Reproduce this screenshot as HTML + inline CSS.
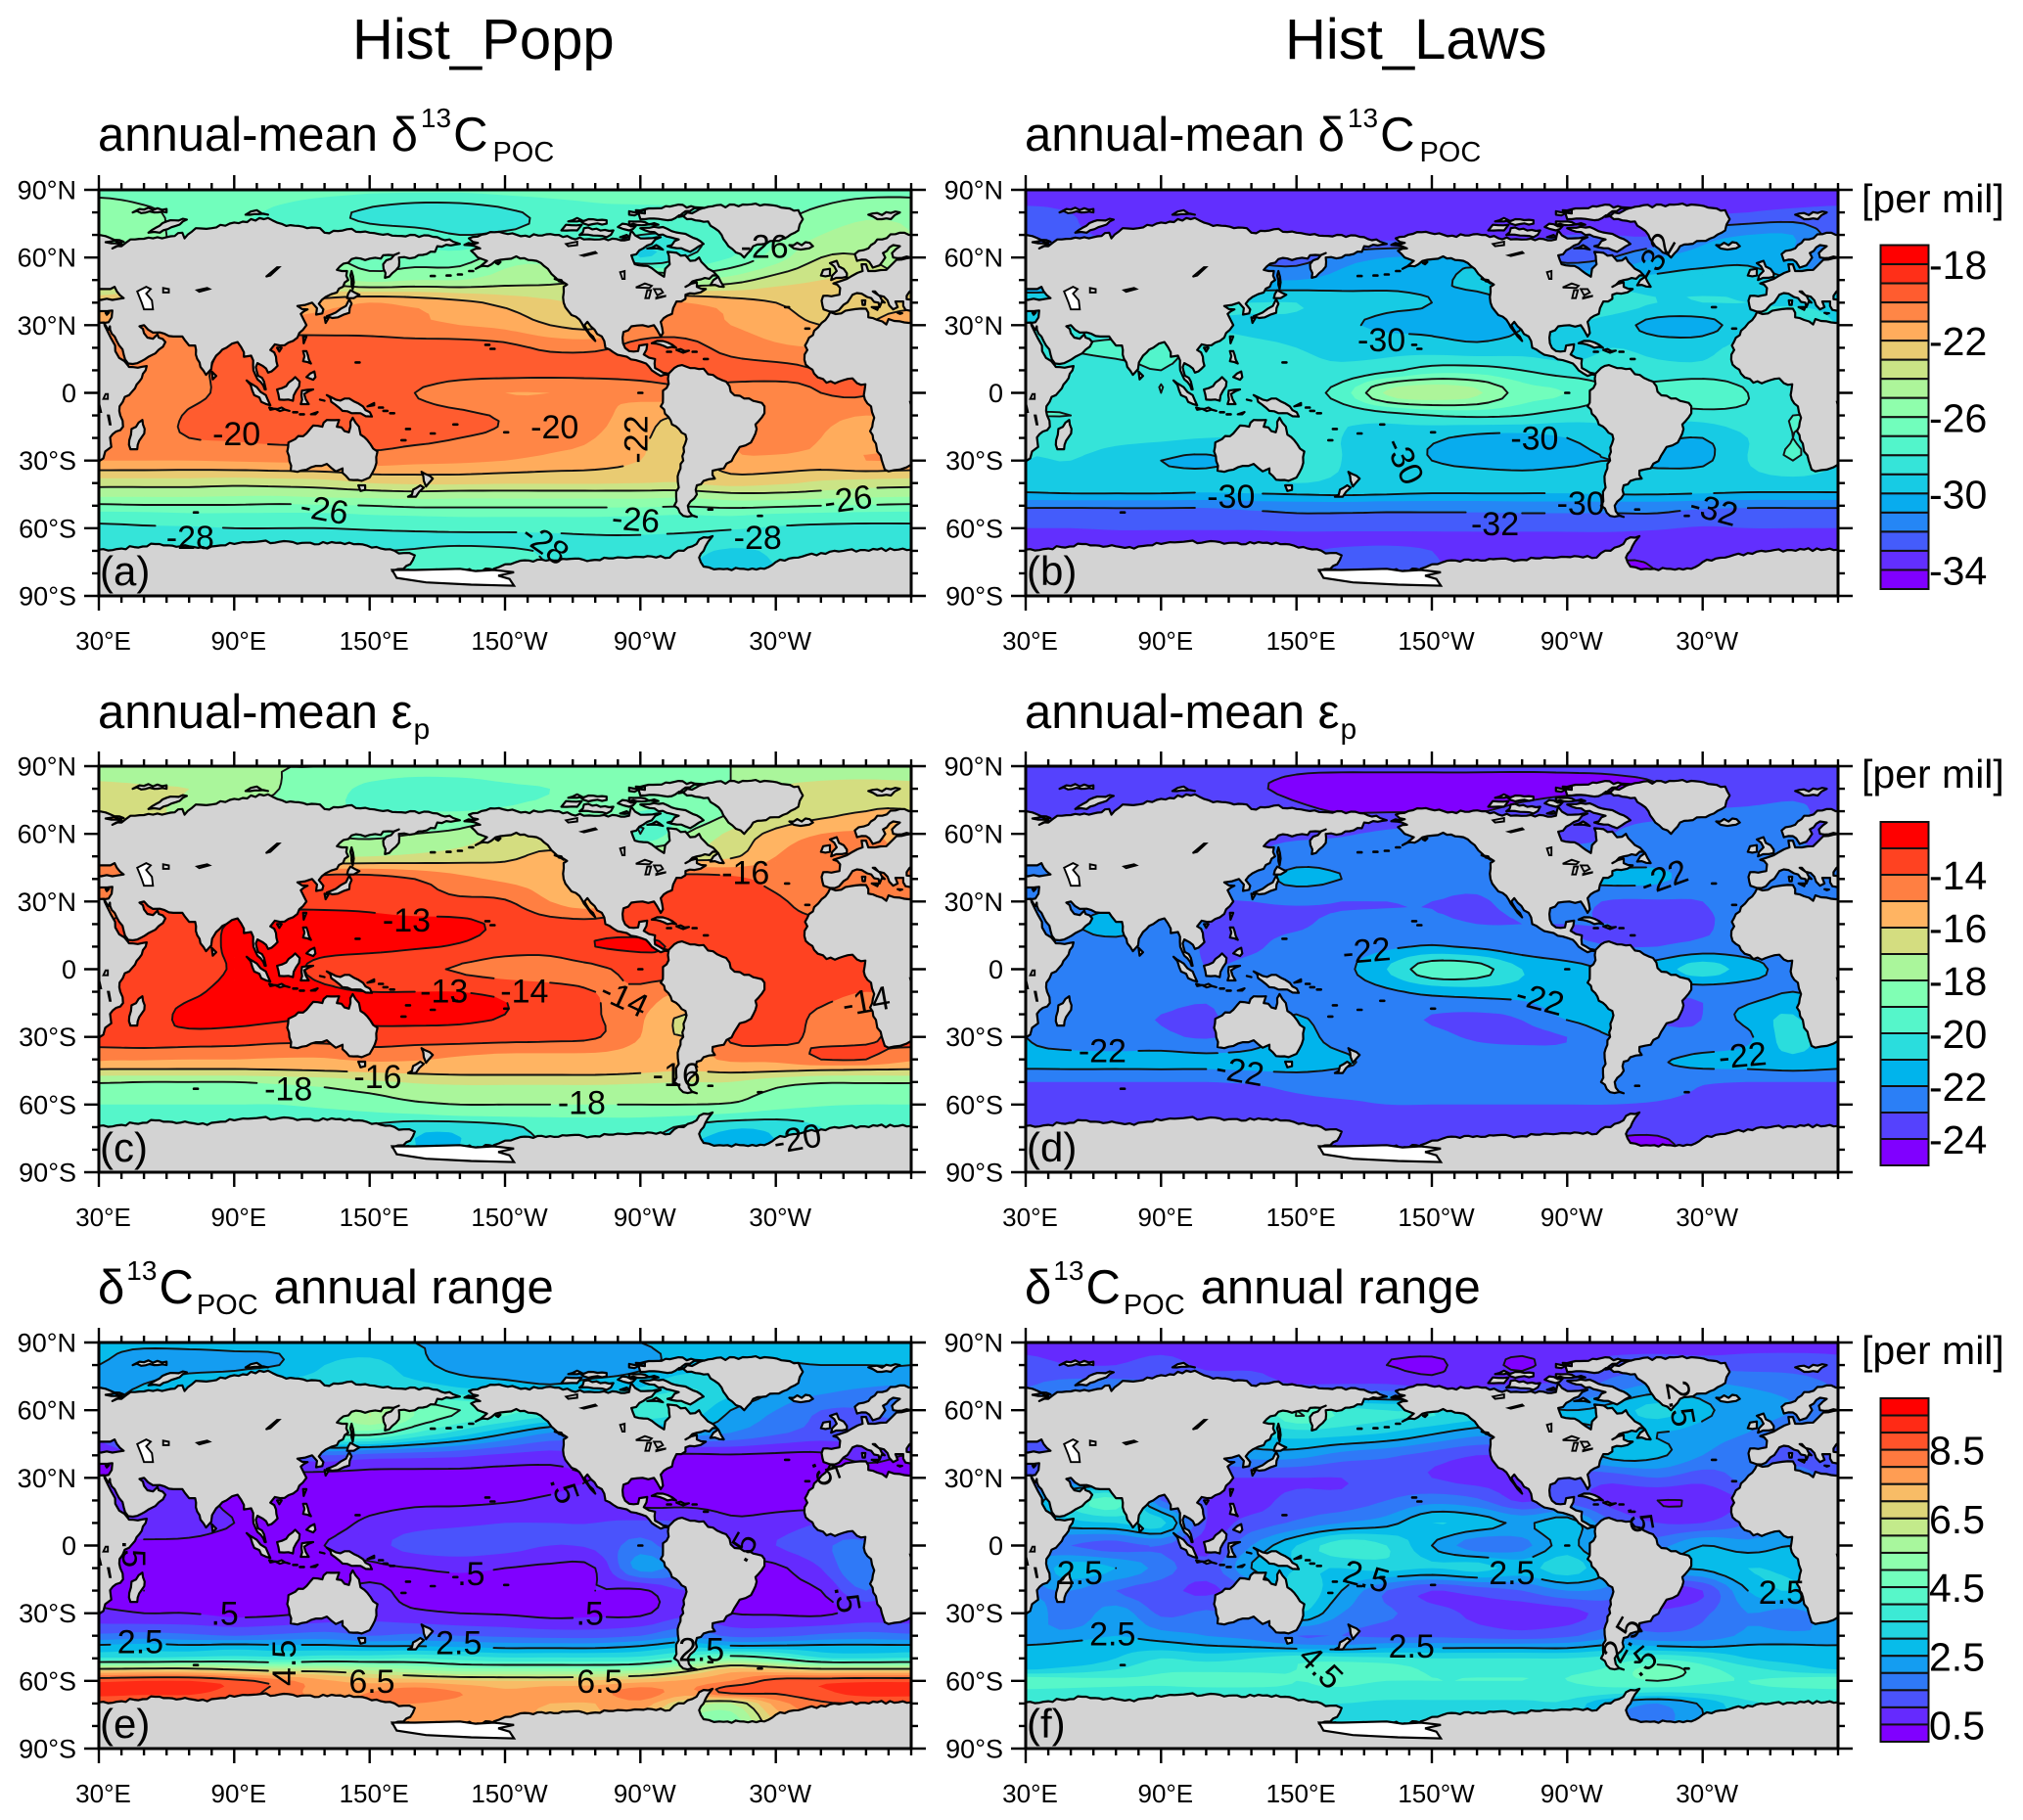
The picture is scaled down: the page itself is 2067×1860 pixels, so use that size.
<!DOCTYPE html>
<html lang="en">
<head>
<meta charset="utf-8">
<title>Hist_Popp vs Hist_Laws carbon isotope maps</title>
<style>
html,body{margin:0;padding:0;background:#fff}
svg{display:block}
text{font-family:"Liberation Sans",sans-serif;fill:#000}
</style>
</head>
<body>
<svg id="figure" xmlns="http://www.w3.org/2000/svg" width="2067" height="1860" viewBox="0 0 2067 1860">
<rect x="0" y="0" width="2067" height="1860" fill="#fff"/>
<text x="360" y="60" font-size="58">Hist_Popp</text>
<text x="1313" y="60" font-size="58">Hist_Laws</text>
<text x="100" y="154" font-size="49">annual-mean δ<tspan font-size="28" dy="-24" dx="3">13</tspan><tspan dy="24" dx="2">C</tspan><tspan font-size="29" dy="11" dx="5">POC</tspan></text>
<text x="1047" y="154" font-size="49">annual-mean δ<tspan font-size="28" dy="-24" dx="3">13</tspan><tspan dy="24" dx="2">C</tspan><tspan font-size="29" dy="11" dx="5">POC</tspan></text>
<text x="100" y="744" font-size="49">annual-mean ε<tspan font-size="30" dy="11" dx="1">p</tspan></text>
<text x="1047" y="744" font-size="49">annual-mean ε<tspan font-size="30" dy="11" dx="1">p</tspan></text>
<text x="100" y="1332" font-size="49">δ<tspan font-size="28" dy="-24" dx="2">13</tspan><tspan dy="24" dx="2">C</tspan><tspan font-size="29" dy="11" dx="3">POC</tspan><tspan dy="-11" dx="16">annual range</tspan></text>
<text x="1047" y="1332" font-size="49">δ<tspan font-size="28" dy="-24" dx="2">13</tspan><tspan dy="24" dx="2">C</tspan><tspan font-size="29" dy="11" dx="3">POC</tspan><tspan dy="-11" dx="16">annual range</tspan></text>
<text x="1902" y="217" font-size="41">[per mil]</text>
<text x="1902" y="805" font-size="41">[per mil]</text>
<text x="1902" y="1394" font-size="41">[per mil]</text>
</svg>
<script>
// ---------- grid axes ----------
const gridLons = [30,50,70,90,110,130,150,170,190,210,230,250,270,290,310,330,350,370];
const gridLats = [90,80,70,60,50,40,30,20,10,0,-10,-20,-30,-40,-45,-50,-55,-60,-65,-70,-80];

// ---------- tick labels ----------
const lonTickValues = [30,90,150,210,270,330];
const lonTickLabels = ["30°E","90°E","150°E","150°W","90°W","30°W"];
const latTickValues = [90,60,30,0,-30,-60,-90];
const latTickLabels = ["90°N","60°N","30°N","0","30°S","60°S","90°S"];

// ---------- contour and colour levels ----------
const isoLevels = [-34,-33,-32,-31,-30,-29,-28,-27,-26,-25,-24,-23,-22,-21,-20,-19,-18];
const isoLines = [-34,-32,-30,-28,-26,-24,-22,-20,-18];
const isoBarLabels = [-18,-22,-26,-30,-34];
const epsLevels = [-24,-23,-22,-21,-20,-19,-18,-17,-16,-15,-14,-13];
const epsLinesPopp = [-20,-18,-16,-14,-13];
const epsLinesLaws = [-24,-22,-20];
const epsBarLabels = [-14,-16,-18,-20,-22,-24];
const rangeLevels = [0.5,1,1.5,2,2.5,3,3.5,4,4.5,5,5.5,6,6.5,7,7.5,8,8.5,9,9.5];
const rangeLines = [0.5,2.5,4.5,6.5,8.5];
const rangeBarLabels = [8.5,6.5,4.5,2.5,0.5];

// ---------- field values, one row per gridLats entry, one column per gridLons entry ----------
const panelAValues = [
[-26.3,-26.4,-26.5,-26.5,-26.6,-26.7,-26.8,-26.8,-26.8,-26.7,-26.6,-26.6,-26.5,-26.5,-26.5,-26.5,-26.4,-26.3],
[-25.3,-25.8,-26.3,-26.7,-27.2,-27.7,-28.2,-28.7,-28.7,-28.2,-27.7,-27.3,-27.3,-27.2,-26.8,-26.3,-25.8,-25.3],
[-25,-25.5,-26.5,-27,-27.5,-27.5,-27.5,-27.5,-28,-27.8,-27.5,-27.5,-28,-28,-27.5,-26,-25,-24.5],
[-25,-25.5,-26,-26,-26,-26,-26.5,-26.5,-26.5,-25.5,-25.5,-27,-29,-28,-27,-25.5,-24,-24],
[-24,-24,-24,-24,-24,-24.5,-25.3,-25,-25,-24.5,-24.3,-24,-24,-25,-24.5,-23.5,-23,-23],
[-22.5,-22,-22,-22,-22,-21.5,-21,-21.3,-21.7,-22.3,-22.8,-23,-21,-21,-21.5,-22,-22.5,-22.5],
[-21,-21,-21,-20.7,-20.5,-20.5,-20.5,-20.8,-21,-21.3,-22,-22.3,-20.8,-20.5,-21,-21.5,-22,-22],
[-20.8,-20.8,-20.6,-19.8,-19.6,-19.5,-19.5,-19.5,-19.5,-19.7,-20.2,-20.2,-19.6,-19.7,-20.3,-20.8,-21,-21],
[-21,-20.8,-20.3,-19.7,-19.6,-19.4,-19.4,-19.4,-19.5,-19.5,-19.6,-19.6,-19.6,-19.6,-19.7,-19.7,-20,-20.2],
[-20.8,-20.8,-20.3,-19.7,-19.5,-19.5,-19.5,-20,-20.6,-21,-21,-20.9,-20.6,-20.3,-20.4,-20.5,-20,-19.9],
[-20.8,-20.6,-19.9,-19.6,-19.5,-19.5,-19.6,-19.6,-19.8,-20.1,-20.3,-20.7,-21.5,-22,-21,-20.8,-20.7,-21],
[-20.8,-20.5,-20,-19.9,-19.8,-19.8,-19.7,-19.8,-20,-20.2,-20.6,-21,-21.8,-22.5,-21,-20.8,-21,-21.7],
[-21,-21,-21,-20.9,-20.8,-20.7,-20.5,-20.7,-20.8,-21,-21.3,-21.5,-22,-22.8,-21.3,-21.2,-21.3,-21],
[-23.5,-23.5,-23.5,-23.6,-23.5,-23.4,-23,-22.8,-22.8,-22.9,-22.9,-22.9,-23,-23,-22.6,-22.8,-23.2,-23.4],
[-24.7,-24.7,-24.7,-24.8,-24.8,-24.6,-24.5,-24.4,-24.5,-24.5,-24.5,-24.5,-24.5,-24.6,-24.2,-24.2,-24.4,-24.6],
[-26.2,-26.1,-26.1,-26.1,-26.2,-26.1,-26,-25.8,-25.8,-25.8,-25.8,-25.8,-25.8,-25.9,-25.7,-25.8,-26,-26.1],
[-27.6,-27.6,-27.4,-27.4,-27.4,-27.4,-27.2,-27.1,-27,-27,-27,-27,-27.1,-27.2,-27.1,-27.4,-27.5,-27.6],
[-28.2,-28.1,-28.1,-28,-28,-28,-27.9,-27.8,-27.7,-27.7,-27.7,-27.6,-27.6,-27.7,-27.9,-28.1,-28.2,-28.2],
[-28.7,-28.6,-28.5,-28.5,-28.5,-28.5,-28.4,-28.4,-28.4,-28.4,-28.3,-28.2,-28.2,-28.4,-28.6,-28.7,-28.7,-28.7],
[-28.6,-28.6,-28.5,-28.5,-28.5,-28.5,-28.1,-27.9,-27.6,-27.8,-28.1,-28.1,-28.1,-28.7,-29.1,-28.9,-28.7,-28.6],
[-28,-28,-28,-28,-28,-28,-27.8,-27.5,-27.3,-27.5,-28,-28,-28,-29,-29.5,-29,-28.5,-28]
];
const panelBValues = [
[-33.5,-33.5,-33.5,-33.5,-33.5,-33.5,-33.5,-33.6,-33.6,-33.6,-33.6,-33.5,-33.5,-33.5,-33.5,-33.5,-33.5,-33.5],
[-32.8,-33,-33.4,-33.5,-33.5,-33.5,-33.6,-33.7,-33.7,-33.7,-33.6,-33.5,-33.5,-33.5,-33.4,-33.2,-33,-32.8],
[-32.5,-32.8,-33.2,-33.4,-33.5,-33.5,-33.5,-33.5,-33.5,-33.5,-33.3,-33.2,-33,-33,-33,-31.5,-31,-31],
[-32,-32,-32,-32,-32,-32.3,-32.5,-31.5,-31,-30.8,-30.5,-31.5,-32.5,-32,-31,-30.5,-30.3,-31],
[-31,-31,-31,-31,-31,-31,-31,-30.6,-30.3,-30.2,-29.8,-30,-30,-29.8,-29.7,-29.5,-29.5,-30],
[-29.3,-29,-29,-29,-29,-29,-29,-29.5,-29.8,-30,-30.3,-29.5,-28.8,-28.5,-29,-29,-29,-29.2],
[-29,-28.5,-28.5,-28.5,-29,-29.2,-29.3,-29.8,-30.2,-30.2,-30.4,-30,-29,-29.5,-30.4,-30.4,-29.3,-28],
[-28,-28,-27.8,-27.7,-28.5,-28.8,-29,-29.2,-29.3,-29.5,-29.7,-29.5,-29.5,-29,-29.3,-29.3,-28.5,-27.5],
[-28.2,-28.3,-28.3,-28,-28.5,-28.7,-28.8,-28.8,-28.3,-27.5,-27.5,-28,-28.5,-28.5,-28.7,-28.7,-28.5,-28],
[-28.3,-28.3,-28.3,-28,-28.3,-28.6,-28.5,-27.5,-24.8,-24.2,-24.8,-26.5,-27,-28,-27.5,-27,-28,-28.3],
[-28,-28,-28.2,-28.2,-28.3,-28.5,-28.8,-28.8,-28.5,-28,-27.8,-28,-28.5,-28.7,-28.7,-28.5,-28.2,-28],
[-28.7,-28.5,-28.7,-28.8,-29,-29,-28.8,-29,-29.3,-29.8,-30.3,-30.4,-30,-29.5,-29.8,-30,-29,-28],
[-29,-29,-29.5,-30,-30.2,-29.5,-28,-29,-29.6,-30,-30.3,-30.5,-30.2,-30,-30.3,-30.2,-29,-28],
[-29.4,-29.3,-29.3,-29.4,-29.4,-29.3,-29,-29.2,-29.3,-29.4,-29.4,-29.4,-29.4,-29.3,-29.3,-29.3,-29.4,-29.4],
[-30.2,-30.1,-30.1,-30.1,-30.2,-30.1,-30,-29.9,-30,-30.1,-30.1,-30.1,-30.1,-30,-30,-30.1,-30.2,-30.2],
[-31.8,-31.8,-31.8,-31.8,-31.8,-31.6,-31.5,-31.5,-31.6,-31.6,-31.6,-31.5,-31.5,-31.5,-31.5,-31.7,-31.8,-31.8],
[-32.5,-32.5,-32.4,-32.4,-32.5,-32.4,-32.2,-32.2,-32.2,-32.2,-32.2,-32.2,-32.2,-32.2,-32.2,-32.5,-32.5,-32.5],
[-33,-33,-32.9,-32.9,-32.9,-32.9,-32.8,-32.8,-32.8,-32.8,-32.8,-32.8,-32.8,-32.8,-32.9,-33.1,-33,-33],
[-33.6,-33.6,-33.5,-33.5,-33.5,-33.5,-33.4,-33.4,-33.4,-33.4,-33.4,-33.4,-33.4,-33.4,-33.5,-33.7,-33.6,-33.6],
[-33.8,-33.8,-33.8,-33.8,-33.8,-33.6,-33.2,-32.8,-32.6,-33,-33.5,-33.5,-33.7,-33.9,-33.9,-33.8,-33.8,-33.8],
[-33.5,-33.5,-33.5,-33.5,-33.5,-33.5,-33,-32.6,-32.5,-32.8,-33.5,-33.5,-33.5,-34,-34,-33.8,-33.6,-33.5]
];
const panelCValues = [
[-18,-18,-18,-18,-18,-18,-18.1,-18.2,-18.2,-18.2,-18.2,-18.2,-18.1,-18.1,-18,-18,-18,-18],
[-16.5,-16.8,-17,-17.5,-18,-18.5,-19.3,-19.8,-19.7,-19.2,-19,-18.5,-18.5,-18.2,-18,-17,-16.5,-16.3],
[-16,-16.5,-17.5,-18,-18.2,-18.8,-19,-19,-19,-18.8,-18.5,-18.5,-19,-19,-18,-17,-16.4,-16],
[-15.5,-16,-16.5,-17,-17.5,-18,-18.2,-18,-17.7,-16.8,-16.8,-18,-20,-18,-16.8,-15.7,-15,-14.9],
[-15,-15.5,-15.5,-16,-16,-17,-17,-16.8,-16.5,-16.2,-15.8,-16,-16.5,-16.5,-16.2,-15,-14.4,-14.8],
[-14.5,-14.8,-15,-15,-14.5,-13.5,-13.5,-14,-14.7,-15.2,-15.5,-15.8,-13.8,-13.5,-13.7,-14.4,-14.8,-14.8],
[-14.5,-14,-13.8,-13.5,-13.2,-13.2,-13.3,-13.7,-13.8,-13.9,-15,-15.5,-13.5,-13.3,-13.4,-13.8,-14.6,-14.8],
[-14,-13.7,-13.6,-12.9,-12.9,-12.7,-12.7,-12.7,-12.8,-13.2,-13.6,-13.6,-13.3,-13.3,-13.4,-13.6,-13.8,-13.9],
[-13.8,-13.7,-13.6,-12.8,-12.8,-12.8,-12.8,-12.9,-13.1,-13.5,-13.6,-13,-12.9,-13.1,-13.2,-13.4,-13.6,-13.7],
[-13.7,-13.7,-13.6,-12.9,-12.8,-13.2,-13.5,-13.8,-14.1,-14.5,-14.5,-14.2,-13.6,-13.2,-13.2,-13.3,-13.3,-13.2],
[-13.7,-13.6,-13.2,-12.7,-12.7,-12.9,-13,-13,-13,-13.2,-13.6,-14,-14.2,-15,-13.5,-13.4,-13.5,-14],
[-13.6,-13.4,-12.8,-12.7,-12.8,-13,-12.8,-12.7,-12.8,-13,-13.4,-13.9,-14.8,-16,-13.7,-13.5,-14.2,-15],
[-13.5,-13.3,-13.3,-13.4,-13.6,-13.6,-13.4,-13.5,-13.5,-13.6,-13.7,-13.9,-15,-16,-13.8,-13.7,-14.2,-14.2],
[-14.8,-14.9,-15,-15,-15.1,-15.1,-14.8,-14.9,-15.2,-15.4,-15.4,-15.4,-15.5,-15.5,-14.8,-14.7,-14,-14],
[-16.2,-16.2,-16.2,-16.2,-16.1,-16,-15.8,-15.7,-15.6,-15.6,-15.6,-15.6,-15.8,-16,-15.8,-15.9,-16.1,-16.2],
[-17.9,-18,-18,-18,-17.8,-17.6,-17.2,-16.9,-16.8,-16.8,-16.8,-16.8,-16.9,-17,-17,-17.6,-17.9,-17.9],
[-18.6,-18.6,-18.6,-18.6,-18.5,-18.3,-18,-17.6,-17.4,-17.4,-17.4,-17.4,-17.4,-17.5,-17.6,-18.2,-18.5,-18.6],
[-19,-19,-19,-19,-19,-18.8,-18.5,-18.2,-18,-18,-18,-18,-18,-18,-18.1,-18.6,-18.9,-19],
[-19.6,-19.6,-19.6,-19.5,-19.4,-19.4,-19.3,-19.2,-19,-18.9,-18.9,-18.9,-18.9,-19,-19.3,-19.6,-19.6,-19.6],
[-19.8,-19.8,-19.8,-19.8,-19.8,-19.8,-20.2,-20.8,-20.8,-20.3,-19.6,-19.5,-19.5,-20.2,-20.9,-20.8,-20,-19.8],
[-20,-20,-20,-20,-20,-20,-20.8,-21,-21,-20.5,-20,-20,-20,-21,-21.6,-21,-20.2,-20]
];
const panelDValues = [
[-23.7,-23.7,-23.7,-23.7,-23.7,-23.8,-23.9,-23.9,-23.9,-23.9,-23.9,-23.9,-23.9,-23.9,-23.8,-23.7,-23.7,-23.7],
[-23.2,-23.3,-23.4,-23.5,-23.6,-23.9,-24.15,-24.3,-24.3,-24.3,-24.3,-24.3,-24.2,-24.1,-24,-23.5,-23.4,-23.2],
[-23.2,-23.4,-23.4,-23.4,-23.4,-23.5,-23.8,-24.05,-24.05,-24.05,-24.05,-23.7,-23.4,-23.4,-23.4,-23,-22.9,-22.9],
[-23.2,-23.2,-23.2,-23.2,-23.2,-23.2,-23.2,-23.1,-22.8,-22.6,-22.5,-23,-23.3,-23,-22.5,-22.5,-22.6,-23],
[-23,-23,-23,-23,-23,-23,-22.5,-22.5,-22.5,-22.5,-22.5,-22.6,-22.6,-22.6,-22.4,-22.4,-22.5,-22.8],
[-22.8,-22.8,-22.8,-22.8,-22.6,-22.4,-21.7,-22,-22.5,-22.6,-22.7,-22.3,-22.1,-21.7,-21.8,-22.5,-22.5,-22.7],
[-22.7,-22.5,-22.3,-22.5,-23,-23,-22.9,-23,-23,-23,-23.1,-22.7,-22.6,-23.1,-23.1,-23,-22.4,-22],
[-22.3,-22.1,-21.7,-22.5,-23,-23.1,-23.1,-22.8,-22.8,-22.8,-23,-23,-23,-23,-23.1,-23.1,-22.6,-22.2],
[-22.4,-22.3,-22.3,-22.3,-23.1,-23.1,-22.7,-22.5,-22.2,-21.9,-22.2,-22.6,-22.8,-23,-23,-22.7,-22.6,-22.5],
[-22.5,-22.5,-22.5,-22.5,-23,-22.8,-22.6,-22.3,-21,-19.3,-19.5,-21,-21.6,-22,-21.5,-20.5,-21.5,-22.5],
[-22.5,-22.6,-22.6,-22.6,-22.9,-22.8,-22.7,-22.6,-22.2,-21.7,-21.5,-21.5,-21.5,-22,-22.7,-22.7,-22.5,-22],
[-22.6,-22.7,-22.9,-23,-23.1,-22.5,-22,-22.6,-22.7,-23,-23.1,-22.8,-21.7,-21.5,-23.1,-23,-21.6,-21],
[-22,-22.7,-22.7,-22.8,-23.1,-22.5,-21.6,-22.5,-22.6,-22.8,-23.1,-23.2,-23,-22,-22.6,-22.7,-22.2,-20.5],
[-21.7,-21.6,-21.7,-21.6,-21.7,-21.7,-21.6,-21.8,-22.5,-22.5,-22.5,-22.5,-22.5,-22.4,-22.1,-21.8,-21.6,-21.2],
[-22.1,-22.1,-22.1,-22.1,-22.1,-22,-21.9,-22.1,-22.3,-22.3,-22.3,-22.3,-22.3,-22.3,-22.2,-22.1,-22.1,-22],
[-23,-23,-23,-23,-23,-22.9,-22.7,-22.6,-22.5,-22.5,-22.5,-22.5,-22.5,-22.5,-22.6,-22.9,-23,-23],
[-23.3,-23.3,-23.3,-23.3,-23.3,-23.2,-23,-22.8,-22.7,-22.7,-22.7,-22.7,-22.7,-22.7,-22.8,-23.1,-23.3,-23.3],
[-23.4,-23.4,-23.4,-23.4,-23.4,-23.4,-23.3,-23.2,-23,-23,-23,-23,-23,-23,-23.1,-23.3,-23.4,-23.4],
[-23.5,-23.5,-23.5,-23.5,-23.5,-23.5,-23.5,-23.4,-23.4,-23.4,-23.4,-23.4,-23.4,-23.4,-23.5,-23.5,-23.5,-23.5],
[-23.6,-23.6,-23.6,-23.6,-23.6,-23.6,-23.6,-23.5,-23.5,-23.5,-23.5,-23.5,-23.5,-23.7,-23.8,-23.6,-23.6,-23.6],
[-23.5,-23.5,-23.5,-23.5,-23.5,-23.5,-23.5,-23.5,-23.5,-23.5,-23.5,-23.5,-23.5,-24.3,-24.3,-23.6,-23.5,-23.5]
];
const panelEValues = [
[2.6,2.6,2.6,2.6,2.6,2.6,2.6,2.5,2.5,2.5,2.5,2.5,2.5,2.6,2.6,2.6,2.6,2.6],
[2.5,2.2,2.3,2.4,2.5,3,3.2,2.7,2.3,2.2,2.2,2.2,2.4,2.7,2.7,2.5,2.5,2.5],
[2,2.6,3,3,3.3,3.3,3.5,3.3,3,2.8,2.6,2.8,3,3.5,3.2,2.5,2.2,2],
[2,3.5,3.5,3.5,3.5,4.5,6,5,4.5,4.2,3.8,3.5,4,3.5,2.5,2,1.5,1.5],
[1.3,3,3,3,3.5,4.5,4.8,4,3.3,2.6,2,2,2.3,2.3,2,1.6,1.3,1.3],
[0.5,1,1,1,1.2,1.5,1.3,1.2,1.1,0.9,0.8,0.9,0.5,0.4,0.45,0.4,0.4,0.7],
[0.4,0.8,0.8,0.6,0.4,0.3,0.3,0.3,0.3,0.3,0.3,0.5,0.3,0.2,0.2,0.2,0.2,0.2],
[0.8,0.8,0.7,0.4,0.3,0.2,0.3,0.4,0.4,0.45,0.6,0.8,0.3,0.3,0.3,0.3,0.2,0.2],
[0.8,0.8,0.7,0.5,0.3,0.3,0.6,0.8,0.9,1,1,1,1.1,1,0.6,0.7,1,1],
[0.4,0.4,0.4,0.3,0.3,0.5,0.8,1.2,1.3,1.2,1,1.1,1.7,1,0.8,1,1.4,1.6],
[0.3,0.3,0.3,0.25,0.3,0.3,0.4,0.5,0.6,0.5,0.4,0.5,2.2,1.5,0.4,0.4,1,2],
[0.5,0.5,0.4,0.3,0.3,0.4,0.6,0.35,0.3,0.3,0.3,0.5,0.4,1,0.3,0.4,0.5,1.5],
[0.6,0.5,0.5,0.35,0.4,0.6,0.8,0.6,0.5,0.45,0.35,0.4,0.4,0.9,0.5,0.45,0.4,0.7],
[1.6,1.7,1.6,1.5,1.6,1.7,1.5,1.6,1.5,1.4,1.3,1.3,1.5,1.9,1.4,1.4,1.6,1.7],
[2.7,2.8,2.7,2.8,2.7,2.7,2.6,2.6,2.5,2.4,2.4,2.4,2.6,3,2.7,2.7,2.7,2.7],
[3.6,3.6,3.7,3.8,3.7,3.9,3.9,4,3.8,3.6,3.6,3.6,3.7,4.3,5,4.5,3.6,3.5],
[6.7,6.8,6.8,6.5,6.2,6.2,5.9,5.5,5.2,5.2,5.2,5.2,5.4,6.2,7.2,7,6.7,6.7],
[8.9,9,9,8.7,8.2,7.6,7.3,7.3,7.1,7,7,7.1,7.3,7.6,8,8.7,8.8,8.9],
[9.2,9.1,9.1,8.8,8.3,7.8,8,8.3,8,7.6,7.8,7.8,8.3,7.8,8.7,8.6,8.9,9.2],
[8.5,8.5,8.5,8.4,8.2,8,8,8,7.8,7.6,7.5,7.5,7.8,6.5,6,7.7,8.4,8.5],
[8,8,8,8,8,8,7.8,7.5,7.5,7.5,7.5,7.5,7,5,5,7,8,8]
];
const panelFValues = [
[0.8,0.8,0.8,0.8,0.8,0.8,0.8,0.8,0.8,0.8,0.8,0.8,0.8,0.8,0.8,0.7,0.8,0.8],
[1.2,1,1,1.2,0.9,0.9,0.8,0.6,0.5,0.4,0.7,0.4,0.9,1.2,1.3,1.3,1.3,1.3],
[1.5,1.8,1.8,1.6,1.5,1.5,1.2,1.2,1.2,1,1,1.2,1.2,1.8,2.2,2.2,2,1.8],
[1.5,2,2,2.2,2.5,3,4.5,3.8,3.5,3.5,3.2,2.8,2.5,2.7,3.2,2.6,2.3,2],
[1.2,1.8,2,2.2,2.6,3,3.3,3.2,3,2.6,2.2,2.2,2.3,2.5,2.5,2.3,2,1.5],
[1.2,1.2,1.2,1.5,1.8,2.2,2.2,1.8,1.6,1.3,1,1.1,1.8,2.7,2.6,2,1.5,1.2],
[1.2,1.4,1.5,1.2,1,1,1,1,1.2,1,0.8,0.9,1.2,1.2,1.5,1.2,1.7,2],
[2,3.5,4.2,1.5,1,0.8,1.2,1.2,1.5,1.8,1.6,0.9,1.3,0.8,0.5,0.6,1.2,2.5],
[2.2,2.8,3,3.2,1,1.2,1.6,2,2.3,3,2.8,2.4,2.8,1.5,1,1,1.5,2],
[2,1.5,1.3,1.5,0.8,2,3,3.8,3.5,2.5,1.7,1.8,2.7,1.5,1.8,2.5,2.2,2.5],
[2,2.8,2.5,1.8,1.2,2.5,3,3,3.2,3,3.2,2.8,3.3,2.5,2.5,2.6,3,2.8],
[2,2,1.5,1.2,0.9,1.5,3.3,2.5,1.5,1,1.2,1.5,2,1.8,0.7,1,2.5,3],
[2.4,1.6,2.3,1.4,1.6,1.5,3,2,1.6,1.2,0.9,0.7,0.8,1.2,1.1,1.4,2,1.8],
[2,2.2,2.5,2.2,2,1.8,1.5,1.5,1.4,1.4,1.3,1.2,1.4,1.8,1.6,1.7,2.1,2.1],
[2.6,2.7,2.8,2.8,2.6,2.5,2.3,2.2,2.4,2.4,2.4,2.4,2.4,2.7,2.6,2.5,2.6,2.6],
[2.8,2.6,3,3.5,3.3,3.5,3.8,3.7,3.6,3.5,3.5,3.5,3.5,3.7,3.9,3.6,3,2.8],
[3,3.2,3.5,3.9,3.9,3.9,4,4.4,4.3,3.9,3.9,3.9,3.9,4.1,4.8,4.2,3.7,3.3],
[4.4,4.2,4.1,4.1,4.2,4.2,4,4.1,4,4,4,4,4,4.2,4.5,4.1,4,4.2],
[3.8,3.8,3.8,3.8,3.8,3.8,3.9,3.9,3.8,3.8,3.8,3.8,3.8,3.7,3.5,3.6,3.8,3.8],
[3.5,3.5,3.5,3.5,3.5,3.5,3.5,3.5,3.4,3.4,3.4,3.4,3.4,2.4,2,2.6,3.4,3.5],
[3.4,3.4,3.4,3.4,3.4,3.4,3.4,3.4,3.4,3.4,3.4,3.4,3.4,2,1.8,2.5,3.3,3.4]
];

// ---------- contour labels: text, lon, lat, rotation ----------
const panelALabels = [["-26",325,65,0],["-20",91,-18,0],["-20",232,-15,0],["-22",268,-20.6,-90],["-26",130,-51.5,10],["-26",268,-56,5],["-26",362,-47,-8],["-28",70.5,-64,0],["-28",228,-66.6,35],["-28",322,-64,0]];
const panelBLabels = [["-32",308.7,60.5,-60],["-30",187.7,23.7,0],["-30",255.5,-20,0],["-30",198,-30,65],["-30",121,-45.8,0],["-30",276,-48.8,0],["-32",238,-58,0],["-32",335,-51.5,15]];
const panelCLabels = [["-16",316.6,43,0],["-13",166.4,22,0],["-13",183,-9.5,0],["-14",218.6,-9.5,0],["-14",263,-12.6,25],["-14",370,-14,-10],["-16",153.6,-47.5,0],["-16",286,-46.6,0],["-18",114,-53,0],["-18",244,-59,0],["-20",339.5,-75,-10]];
const panelDLabels = [["-22",312.8,40.8,-20],["-22",181,8.4,-5],["-22",258,-13,15],["-22",64,-36,0],["-22",125,-45,10],["-22",347.7,-38,-5]];
const panelELabels = [[".5",236.6,25,70],[".5",352.6,33,70],[".5",315,-0.5,-60],[".5",45.7,-3.7,90],[".5",195,-12.4,0],[".5",85.8,-30,0],[".5",247.6,-30,0],[".5",362,-23.6,80],["2.5",48.4,-42.5,0],["2.5",189.5,-43,0],["2.5",297,-46,0],["4.5",112,-52,-90],["6.5",151,-60,0],["6.5",252,-60,0]];
const panelFLabels = [["2.5",320.4,63,80],[".5",302.8,12,80],["2.5",54,-12,0],["2.5",181,-13.5,15],["2.5",245.5,-12,0],["2.5",365,-20.5,0],["2.5",68.5,-39,0],["2.5",201,-44.5,0],["2.5",294,-41.5,-60],["4.5",161,-53.7,45],[".5",303,-51,-40]];

// ---------- base map geography (lon, lat pairs) ----------
const landShapes = [
 [-5.9,35.8,-1,35.2,3,36.8,10,37.3,11,33.5,15,32.3,19,30.3,20,32.7,25,31.7,29,31,32.3,31.2,32.6,29.9,34,27,35.5,24,37.2,21,37.3,18.5,39,15.5,43,12,43.3,11.5,51.2,11.9,49,6.5,46,2,41.5,-1.8,39.2,-6,39.5,-10,40.7,-15,35,-19.8,35.5,-24,32.8,-26,32,-29,28,-33,25,-34,20,-34.8,18.3,-34,17,-30,15,-26,14.4,-22.5,11.8,-17,13.6,-11,12.2,-6,9,-1,9.7,3.8,6,4.3,4,6.4,-2,5,-7.5,4.5,-13,8.5,-16.7,12.5,-17.3,14.7,-16,19,-17,21,-13,27.5,-9.7,31,-6.8,34],
 [32.6,30.5,34.2,27.8,34.9,29.5,35,28,37,25,39,21,41,17,43,13,45,12.8,52,16,55,17.5,59.5,22.5,56.5,24.5,56,26,54,24,51.5,24.5,50,26.5,48,29.5,50,30,54,26.7,57,26.8,61,25.2,67,25,68,23.5,70,21,72.7,21,73,17,75,11.5,77.5,8,79.8,10.5,80.2,13.5,82,16.5,86.5,20,89,21.8,91.5,22.5,94.3,18,94.3,16,97.5,16.5,98.5,10,100.3,6,103.5,1.5,104,1.5,103.2,5,100,9.5,100.3,13.2,102.5,12,105,9,106.5,9.5,109.2,12,108.5,16,106,19,108,21.5,110.3,21,114,22.3,118,24.5,120.5,28,122,30,121,32,119.5,35,122.5,37,118,38.5,121.5,39,124.5,40,126.7,37.5,126.3,34.7,129,35.2,129.5,37,127.5,39.5,130.5,42.5,135.5,44.5,140.5,50,140,54,135.5,54.5,142,59.3,150,59.5,155,59.5,156,61,163,62,156,57,156.8,51,160,53,163,56,163,60,170,60,179,62.5,180,65,190,66,187,67,180,69,170,70,160,69.7,150,71,140,72.5,130,71,128,73,113,74,105,77.5,90,75.5,80,73,73,73,68,68.5,67,71,60,69,54,68.5,44,68,40,65,36,64,40,66,33,66.8,41,67,33,69.5,25,71,15,68,11,64,5,61.5,6,58.5,10,59,11.5,58,13,55.5,16,56.5,18.5,60,17.5,62,22,65.5,25,65,21.5,62,22,60,30,60,23.5,59,21.5,57,19,54.5,14,54,11,54,10,57,8,57,8.5,54,4,52,1.5,50.5,-1.5,49.5,-4.5,48.5,-1.5,46.5,-1.8,43.5,-9,43,-9.3,38.7,-8.8,37,-5.9,36,-2,36.7,0,39,3,42,4,43.5,8,44,10.5,42.5,15.5,40,16,38,17,40.3,18.3,40,13,45,14,45,19.5,41,22,37,24,38,23,40.5,26.5,40.5,26.5,38.5,27.5,36.8,30.5,36.2,34,36.3,36,36.5,35.7,33.5,34.3,31.3,32.5,31],
 [28,41.5,31,41.2,36,41.2,41,42,38,45,37,47,33,46,30.5,46,28,43],
 [-168,65.6,-162,66.5,-166,68.5,-156.5,71.3,-141,69.7,-128,70,-115,68,-108,68,-95,68,-94,72,-90,68.5,-81,69,-85,66,-94,61,-92.5,57,-85,55.3,-82,53,-79.5,51.5,-79,55,-77,57,-78,62.5,-70,61,-68,58.5,-64,60,-60,55,-56,52,-65,50,-70,47,-65,49,-65,47,-61,46,-66,44,-70,43.5,-70,41.7,-74,40.5,-75.5,37.5,-76,35,-81,31.5,-80,26.5,-81,25,-82.7,28,-84,30,-89,30,-94,29.5,-97.5,27,-97.7,22,-95,18.5,-91,18.5,-90.5,21,-87,21.5,-88.5,17,-83.5,15,-83.5,11,-80,9,-77.5,8.5,-77.5,8,-79,8.2,-81,7.5,-85,10,-87.5,13,-92,14.5,-96,16,-102,18,-105.5,20,-106,23,-112,29.5,-113.5,31.5,-114.8,30,-110,23,-112,25,-115,29,-117,32.5,-120.5,34.5,-124,40,-124,47,-122.5,48,-127.5,51,-131,55,-136,58.5,-145,60.5,-152,59,-156,57,-163,55,-158,58.5,-162,60,-165,63,-161,64],
 [-73,78,-60,76,-54,70,-51,65,-44,60,-40,65,-25,69,-20,72,-18,77,-20,81,-35,83.5,-60,82.5,-70,80.5],
 [-62,66,-68,62.5,-78,65,-73,68,-82,70,-90,73,-80,73.5,-70,70.5],
 [-117,70,-105,69,-102,72,-115,73],
 [-90,77,-78,76.5,-62,82,-75,83,-92,81],
 [-125,72,-118,72,-116,74.5,-123,74.5],
 [-95,74.5,-82,74.5,-90,76,-95,76],
 [-115,75,-105,75,-105,76.5,-117,76.5],
 [-100,73.5,-95,72,-92,74,-98,75],
 [-87,64,-80,63.5,-83,65.5],
 [-99,69,-95,69,-96,70],
 [-95,79,-88,79.5,-88,81,-95,80.5],
 [-122,76,-116,76.5,-118,77.5],
 [-154,57.5,-152,58,-153,57],
 [-128,50.5,-124,48.5,-125,50],
 [-59,47.7,-53,47,-55.5,51.5],
 [-85,22,-80,23,-74.2,20,-78,20],
 [-74,19,-68.5,18.7,-71,17.8],
 [-77.5,8.5,-75,11,-71.5,12.3,-68,11,-62,10.7,-60,8.3,-52,5,-50,0.5,-44,-2.5,-38,-4,-35,-6,-35,-9,-39,-14,-39,-18,-41,-22,-46,-24,-48.5,-28,-53,-33.5,-58,-34.5,-57,-38,-62,-39,-65,-41,-65,-45,-69,-50,-68.5,-52.5,-65,-55,-71,-54.5,-75,-50,-73,-42,-73.5,-37,-71,-30,-70,-18.5,-76,-14,-81,-6,-80,-2.5,-80,1,-77.5,4],
 [114,-22,113.5,-26,115,-34.5,118,-35,124,-33,131,-31.5,135,-34.8,138,-33.5,138,-35.5,141,-38.5,146.5,-39,150,-37.5,153,-31,153.5,-26,149,-21,146,-18.5,145.3,-15,142.5,-11,141.5,-15,140.8,-17.5,135.5,-15,136.5,-12,131,-12,129,-15,125,-14.5,122,-18,117,-20.5],
 [145,-41,148,-41,148,-43,146,-43.5],
 [173,-35,178,-38,175,-41.5,174,-39],
 [172.5,-41,174,-42,170.5,-46,167,-46,171,-42],
 [131,-1,135,-3,141,-2.5,147,-6,151,-10.5,146,-9,142,-9,138,-8,133,-4],
 [109,1.5,113,3,117,7,119,5,117.5,1,116,-3.5,110,-3],
 [95.5,5.5,100,2.5,104,-1,106,-5.5,102,-4,98,1],
 [105.5,-6.5,111,-6.5,114.5,-8,106,-7.5],
 [119.5,-5,120,1,125,1.5,121,-0.5,123,-5],
 [120.5,18.5,122,18.5,124,13,120.5,14],
 [122,7,125.5,9.5,126,7,125,5.8],
 [128,-3,130,-3.5,129,-3.2],
 [124,-9.5,127,-8.5,126,-9.5],
 [149,-6,152,-4.5,152,-5.5],
 [120.5,25,122,25,120.8,22],
 [109,20,111,20,110,18.3],
 [80,9.5,82,7.5,80.5,6],
 [49.3,-12,50.3,-16,47,-25,44,-25,43.5,-21,44.5,-16],
 [131,34,136,33.5,141,35.5,142,39.5,141,41.5,139.5,38.5,135,35.6],
 [140,42,141.5,45.5,145.5,43.5,143,42],
 [130,33.5,131.7,33,130.5,31],
 [142,54,143,49,142.5,46,142,50],
 [-5.5,50,1.5,51.5,1.5,53,-2,56,-3,58.5,-6,57.5,-3,54,-5,52],
 [-10,52,-6,52,-6,55,-9,54.5],
 [-24,65.5,-15,66.5,-13.5,65,-19,63.5,-22,64],
 [11,79,25,80,21,77,15,77],
 [52,71,57,71,69,76.8,60,76],
 [95,79,105,79,100,81],
 [45,80,60,80,60,81.5,48,81.5],
 [12.5,38,15.5,38,15,36.8],
 [8.2,41,9.7,41,9.5,39,8.5,39],
 [24,35.5,26,35.3,25,35],
 [33,35.5,34.5,35.6,33.5,34.6],
 [30,-69.5,40,-69,55,-67,70,-68,78,-69,88,-66.5,100,-66,110,-66,120,-66.5,135,-66.5,145,-67,155,-69,165,-71,170,-72,168,-76,165,-78,160,-79,205,-78.5,205,-78,210,-76,215,-75,230,-74,250,-74,262,-73,275,-72.5,283,-73,285,-71,293,-68,298,-64,302,-63.5,300,-66,298,-70,296,-73,298,-77,305,-78,325,-78,330,-75,340,-73,350,-71,360,-70,375,-69.5,390,-69.5,390,-90,30,-90]
];
const lakeShapes = [
 [104,51.5,106,52,110,55.7,109,55.7],
 [73.5,45.5,78,46.5,79,46,74.5,44.8],
 [58.5,46.5,61,46,61,44.5,58.5,44.5],
 [-92,46.7,-88,48.5,-85,47.5,-86,46.5],
 [-87.8,42,-86.2,42,-85.3,45.5,-87,45.5],
 [-84,46,-81,46,-80,44.5,-82.5,43.2],
 [-83,41.8,-79,42.8,-79,43,-83,42.2],
 [-98,50.5,-97,50.5,-97,54,-99,53.5],
 [-116,61,-110,62.5,-109.5,62,-115,60.7],
 [-123,66,-118,67,-118,65.5,-122,65],
 [33,-0.5,34,-0.5,34,-2.7,32,-2.7],
 [29.5,-4,30,-4,31,-8.5,30.5,-8.5],
 [34,-10,34.5,-10,35.2,-14,34.8,-14]
];
const caspianShape = [47,45,51,47,53,46,51,44,53.5,41,54,37,50,37,49,40];
const rossIceShape = [160,-78.5,170,-78.5,190,-78,197,-79,205,-78.5,214,-79.5,207,-81,212,-82.5,214,-85.5,195,-85,175,-84,162,-82];
const tinyIslands = [[-155.5,19.5],[-157.8,21.3],[178,-18],[160,-9],[165,-21],[167,-16],[-172,-14],[157,-8],[155,-6.5],[-149.5,-17.5],[73,-53],[-37,-54.5],[-59,-51.7],[-25,38],[-16,28.5],[144.7,13.5],[-90,0],[-170,52.5],[-175,52],[-165,54],[178,51.8],[120,-9.5],[117,-8.6],[-61,15],[-66,18.2],[-77.3,18.2]];

// ---------- figure ----------
const svgNS = "http://www.w3.org/2000/svg";
const figure = document.getElementById("figure");
const mapWidth = 830, mapHeight = 415, fineStep = 4;

function xScale(left, lon){ return left + (lon - 30) / 360 * mapWidth; }
function yScale(top, lat){ return top + (90 - lat) / 180 * mapHeight; }
function rainbow(i, n){
  const x = i / (n - 1);
  const r = Math.min(1, Math.abs(2 * x - 0.5));
  const g = Math.sin(Math.PI * x);
  const b = Math.cos(Math.PI * x / 2);
  return "rgb(" + Math.round(r * 255) + "," + Math.round(g * 255) + "," + Math.round(b * 255) + ")";
}
function make(tag, attrs, parent, text){
  const el = document.createElementNS(svgNS, tag);
  for (const k in attrs) el.setAttribute(k, attrs[k]);
  if (text !== undefined) el.textContent = text;
  (parent || figure).appendChild(el);
  return el;
}
function cubic(a, b, c, d, t){
  return 0.5 * (2 * b + (c - a) * t + (2 * a - 5 * b + 4 * c - d) * t * t + (3 * b - a - 3 * c + d) * t * t * t);
}
function refine(values){
  const rows = values.length, cols = gridLons.length;
  const widened = values.map(function(row){
    const out = [];
    for (let c = 0; c < cols; c++) {
      for (let s = 0; s < fineStep; s++) {
        out.push(cubic(row[(c + cols - 1) % cols], row[c], row[(c + 1) % cols], row[(c + 2) % cols], s / fineStep));
      }
    }
    out.push(row[0]);
    return out;
  });
  const field = [], lats = [];
  for (let r = 0; r < rows - 1; r++) {
    for (let s = 0; s < fineStep; s++) {
      const t = s / fineStep;
      lats.push(gridLats[r] + (gridLats[r + 1] - gridLats[r]) * t);
      const line = [];
      for (let c = 0; c < widened[0].length; c++) {
        line.push(cubic(widened[Math.max(r - 1, 0)][c], widened[r][c], widened[r + 1][c], widened[Math.min(r + 2, rows - 1)][c], t));
      }
      field.push(line);
    }
  }
  field.push(widened[rows - 1]);
  lats.push(gridLats[rows - 1]);
  const lons = [];
  for (let c = 0; c < widened[0].length; c++) lons.push(30 + c * 20 / fineStep);
  return {field: field, lats: lats, lons: lons};
}
function bandPath(grid, level, left, top){
  const f = grid.field, parts = [];
  for (let r = 0; r < f.length - 1; r++) {
    const y0 = yScale(top, grid.lats[r]), y1 = yScale(top, grid.lats[r + 1]);
    let runStart = -1;
    for (let c = 0; c < grid.lons.length - 1; c++) {
      const x0 = xScale(left, grid.lons[c]), x1 = xScale(left, grid.lons[c + 1]);
      const v = [f[r][c], f[r][c + 1], f[r + 1][c + 1], f[r + 1][c]];
      const full = v[0] >= level && v[1] >= level && v[2] >= level && v[3] >= level;
      if (full) { if (runStart < 0) runStart = x0; }
      if (!full && runStart >= 0) {
        parts.push("M" + runStart.toFixed(1) + " " + y0.toFixed(1) + "H" + x0.toFixed(1) + "V" + y1.toFixed(1) + "H" + runStart.toFixed(1) + "Z");
        runStart = -1;
      }
      if (!full && (v[0] >= level || v[1] >= level || v[2] >= level || v[3] >= level)) {
        const px = [x0, x1, x1, x0], py = [y0, y0, y1, y1], pts = [];
        for (let i = 0; i < 4; i++) {
          const j = (i + 1) % 4;
          if (v[i] >= level) pts.push(px[i].toFixed(1) + " " + py[i].toFixed(1));
          if ((v[i] >= level) !== (v[j] >= level)) {
            const t = (level - v[i]) / (v[j] - v[i]);
            pts.push((px[i] + (px[j] - px[i]) * t).toFixed(1) + " " + (py[i] + (py[j] - py[i]) * t).toFixed(1));
          }
        }
        parts.push("M" + pts.join("L") + "Z");
      }
    }
    if (runStart >= 0) {
      parts.push("M" + runStart.toFixed(1) + " " + y0.toFixed(1) + "H" + xScale(left, grid.lons[grid.lons.length - 1]).toFixed(1) + "V" + y1.toFixed(1) + "H" + runStart.toFixed(1) + "Z");
    }
  }
  return parts.join("");
}
function labelBoxes(labels, left, top){
  return labels.map(function(l){
    const a = l[3] * Math.PI / 180;
    return {cx: xScale(left, l[1]), cy: yScale(top, l[2]), hw: l[0].length * 9.5 + 3, hh: 15, cos: Math.cos(a), sin: Math.sin(a)};
  });
}
function hidden(boxes, x, y){
  for (const b of boxes) {
    const dx = x - b.cx, dy = y - b.cy;
    if (Math.abs(dx * b.cos + dy * b.sin) < b.hw && Math.abs(-dx * b.sin + dy * b.cos) < b.hh) return true;
  }
  return false;
}
function linePath(grid, level, left, top, boxes){
  const f = grid.field, parts = [];
  for (let r = 0; r < f.length - 1; r++) {
    const y0 = yScale(top, grid.lats[r]), y1 = yScale(top, grid.lats[r + 1]);
    for (let c = 0; c < grid.lons.length - 1; c++) {
      const x0 = xScale(left, grid.lons[c]), x1 = xScale(left, grid.lons[c + 1]);
      const v = [f[r][c], f[r][c + 1], f[r + 1][c + 1], f[r + 1][c]];
      const px = [x0, x1, x1, x0], py = [y0, y0, y1, y1], hits = [];
      for (let i = 0; i < 4; i++) {
        const j = (i + 1) % 4;
        if ((v[i] >= level) !== (v[j] >= level)) {
          const t = (level - v[i]) / (v[j] - v[i]);
          hits.push([px[i] + (px[j] - px[i]) * t, py[i] + (py[j] - py[i]) * t]);
        }
      }
      for (let h = 0; h + 1 < hits.length; h += 2) {
        const mx = (hits[h][0] + hits[h + 1][0]) / 2, my = (hits[h][1] + hits[h + 1][1]) / 2;
        if (!hidden(boxes, mx, my)) {
          parts.push("M" + hits[h][0].toFixed(1) + " " + hits[h][1].toFixed(1) + "L" + hits[h + 1][0].toFixed(1) + " " + hits[h + 1][1].toFixed(1));
        }
      }
    }
  }
  return parts.join("");
}
function shapePath(points, left, top, shift){
  let d = "";
  for (let i = 0; i < points.length; i += 2) {
    d += (i ? "L" : "M") + xScale(left, points[i] + shift).toFixed(1) + " " + yScale(top, points[i + 1]).toFixed(1);
  }
  return d + "Z";
}
// gives the hand-drawn coastlines a natural irregular edge (fixed pattern, base map only)
function coastJitter(x, y){
  const h = Math.sin(x * 12.9898 + y * 78.233) * 43758.5453;
  return (h - Math.floor(h)) - 0.5;
}
function roughen(points){
  const out = [], n = points.length;
  for (let i = 0; i < n; i += 2) {
    const ax = points[i], ay = points[i + 1], bx = points[(i + 2) % n], by = points[(i + 3) % n];
    const len = Math.hypot(bx - ax, by - ay), steps = Math.floor(len / 1.8);
    out.push(ax, ay);
    if (ay < -85 || by < -85) continue;
    for (let k = 1; k < steps; k++) {
      const t = k / steps, px = ax + (bx - ax) * t, py = ay + (by - ay) * t;
      const off = coastJitter(px, py) * 1.3;
      out.push(px - (by - ay) / len * off, py + (bx - ax) / len * off);
    }
  }
  return out;
}
const roughLand = landShapes.map(roughen);

function drawPanel(p){
  const group = make("g", {}, figure);
  
  
  const clipId = "clip-" + p.tag;
  const defs = make("defs", {}, group);
  const clip = make("clipPath", {id: clipId}, defs);
  make("rect", {x: p.left, y: p.top, width: mapWidth, height: mapHeight}, clip);
  const plot = make("g", {"clip-path": "url(#" + clipId + ")"}, group);
  
  

  const count = p.levels.length + 1;
  const base = make("rect", {x: p.left, y: p.top, width: mapWidth, height: mapHeight, fill: rainbow(0, count)}, plot);
  
  
  const grid = refine(p.values);
  p.levels.forEach(function(level, i){
    const d = bandPath(grid, level, p.left, p.top);
    if (!d) return;
    const band = make("path", {d: d, fill: rainbow(i + 1, count), stroke: "none"}, plot);
    
    
  });
  const boxes = labelBoxes(p.labels, p.left, p.top);
  p.lines.forEach(function(level){
    const d = linePath(grid, level, p.left, p.top, boxes);
    if (!d) return;
    const line = make("path", {d: d, fill: "none", stroke: "#111", "stroke-width": 1.9, "stroke-linecap": "round"}, plot);
    
    
  });

  let landD = "", lakeD = "", caspianD = "";
  [0, 360, -360].forEach(function(shift){
    roughLand.forEach(function(s){ landD += shapePath(s, p.left, p.top, shift); });
    lakeShapes.forEach(function(s){ lakeD += shapePath(s, p.left, p.top, shift); });
    caspianD += shapePath(caspianShape, p.left, p.top, shift);
  });
  const land = make("path", {d: landD, fill: "#d3d3d3", "fill-rule": "evenodd", stroke: "#000", "stroke-width": 2.2, "stroke-linejoin": "round"}, plot);
  
  
  const lakes = make("path", {d: lakeD, fill: "#d3d3d3", stroke: "#000", "stroke-width": 1.9}, plot);
  
  
  const caspian = make("path", {d: caspianD, fill: "#fff", stroke: "#000", "stroke-width": 1.9}, plot);
  
  
  const ross = make("path", {d: shapePath(rossIceShape, p.left, p.top, 0), fill: "#fff", stroke: "#000", "stroke-width": 2.2}, plot);
  
  
  let dots = "";
  tinyIslands.forEach(function(t){
    const lon = t[0] < 30 ? t[0] + 360 : t[0];
    const cx = xScale(p.left, lon), cy = yScale(p.top, t[1]);
    dots += "M" + (cx - 2).toFixed(1) + " " + cy.toFixed(1) + "h4";
  });
  const islands = make("path", {d: dots, stroke: "#000", "stroke-width": 2.6, "stroke-linecap": "round", fill: "none"}, plot);
  
  

  p.labels.forEach(function(l){
    const cx = xScale(p.left, l[1]), cy = yScale(p.top, l[2]);
    const label = make("text", {x: cx, y: cy + 12, "font-size": 34, "text-anchor": "middle", transform: "rotate(" + l[3] + " " + cx + " " + cy + ")"}, plot, l[0]);
    
    
  });

  const tag = make("text", {x: p.left + 1, y: p.top + 404, "font-size": 42}, group, "(" + p.tag + ")");
  
  

  // axes
  let ticks = "";
  for (let lon = 30; lon <= 390; lon += 10) {
    const x = xScale(p.left, lon).toFixed(1);
    const len = (lon - 30) % 60 === 0 && lon < 390 ? 15 : 7;
    ticks += "M" + x + " " + p.top + "v" + (-len) + "M" + x + " " + (p.top + mapHeight) + "v" + len;
  }
  for (let lat = -90; lat <= 90; lat += 10) {
    const y = yScale(p.top, lat).toFixed(1);
    const len = lat % 30 === 0 ? 15 : 7;
    ticks += "M" + p.left + " " + y + "h" + (-len) + "M" + (p.left + mapWidth) + " " + y + "h" + len;
  }
  const tickPath = make("path", {d: ticks, stroke: "#000", "stroke-width": 2.4, fill: "none"}, group);
  
  
  const frame = make("rect", {x: p.left, y: p.top, width: mapWidth, height: mapHeight, fill: "none", stroke: "#000", "stroke-width": 3}, group);
  
  

  lonTickValues.forEach(function(lon, i){
    const lab = make("text", {x: xScale(p.left, lon) + 4.5, y: p.top + mapHeight + 55, "font-size": 26, "text-anchor": "middle"}, group, lonTickLabels[i]);
    
    
  });
  latTickValues.forEach(function(lat, i){
    const lab = make("text", {x: p.left - 23, y: yScale(p.top, lat) + 9.5, "font-size": 27, "text-anchor": "end"}, group, latTickLabels[i]);
    
    
  });
}
function drawColorbar(levels, barLabels, top, height, decimals){
  const group = make("g", {}, figure);
  
  
  const n = levels.length + 1, boxH = height / n, x = 1921.5, w = 49;
  for (let k = 0; k < n; k++) {
    const box = make("rect", {x: x, y: top + k * boxH, width: w, height: boxH, fill: rainbow(n - 1 - k, n), stroke: "#111", "stroke-width": 2}, group);
    
    
  }
  const maxLevel = levels[levels.length - 1], step = levels[1] - levels[0];
  barLabels.forEach(function(v){
    const y = top + boxH + (maxLevel - v) / step * boxH;
    const lab = make("text", {x: 1971, y: y + 15, "font-size": 41}, group, decimals ? v.toFixed(decimals) : String(v));
    
    
  });
}

const leftColumn = 101, rightColumn = 1048;
drawPanel({tag: "a", left: leftColumn, top: 194, values: panelAValues, levels: isoLevels, lines: isoLines, labels: panelALabels});
drawPanel({tag: "b", left: rightColumn, top: 194, values: panelBValues, levels: isoLevels, lines: isoLines, labels: panelBLabels});
drawPanel({tag: "c", left: leftColumn, top: 783, values: panelCValues, levels: epsLevels, lines: epsLinesPopp, labels: panelCLabels});
drawPanel({tag: "d", left: rightColumn, top: 783, values: panelDValues, levels: epsLevels, lines: epsLinesLaws, labels: panelDLabels});
drawPanel({tag: "e", left: leftColumn, top: 1372, values: panelEValues, levels: rangeLevels, lines: rangeLines, labels: panelELabels});
drawPanel({tag: "f", left: rightColumn, top: 1372, values: panelFValues, levels: rangeLevels, lines: rangeLines, labels: panelFLabels});
drawColorbar(isoLevels, isoBarLabels, 250.5, 351.5, 0);
drawColorbar(epsLevels, epsBarLabels, 840, 351, 0);
drawColorbar(rangeLevels, rangeBarLabels, 1429, 351, 1);
</script>
</body>
</html>
